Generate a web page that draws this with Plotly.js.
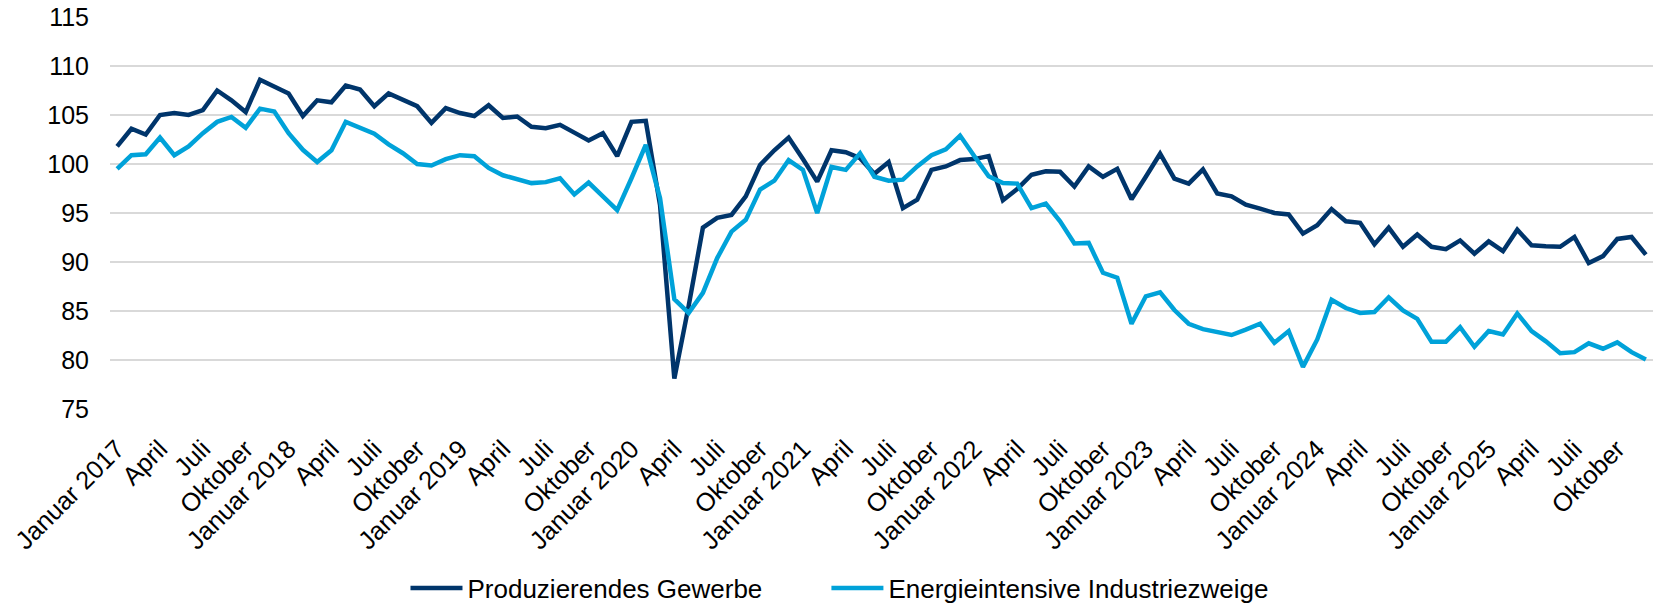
<!DOCTYPE html>
<html>
<head>
<meta charset="utf-8">
<script src="https://cdn.plot.ly/plotly-3.0.1.min.js"></script>
<style>html,body{margin:0;padding:0;background:#fff;}#chart{width:1654px;height:607px;}</style>
</head>
<body>
<div id="chart"></div>
<script>
// Monthly index values, Januar 2017 - Dezember 2025
const produzierendesGewerbe = [
  101.8, 103.6, 103.0, 105.0, 105.2, 105.0, 105.5, 107.5, 106.5, 105.3, 108.6, 107.9,
  107.2, 104.9, 106.5, 106.3, 108.0, 107.6, 105.9, 107.2, 106.5, 105.9, 104.2, 105.7,
  105.2, 104.9, 106.0, 104.7, 104.85, 103.8, 103.65, 104.0, 103.2, 102.4, 103.15, 100.8,
  104.3, 104.4, 95.8, 78.1, 85.5, 93.5, 94.5, 94.8, 96.7, 99.9, 101.4, 102.7,
  100.5, 98.2, 101.4, 101.2, 100.6, 99.0, 100.2, 95.5, 96.35, 99.4, 99.75, 100.4,
  100.5, 100.8, 96.3, 97.45, 98.9, 99.25, 99.2, 97.7, 99.75, 98.7, 99.5, 96.4,
  98.7, 101.05, 98.5, 98.0, 99.45, 97.0, 96.7, 95.85, 95.45, 95.0, 94.85, 92.9,
  93.75, 95.4, 94.15, 94.0, 91.8, 93.5, 91.55, 92.8, 91.55, 91.3, 92.2, 90.85,
  92.1, 91.1, 93.3, 91.7, 91.6, 91.55, 92.55, 89.9, 90.6, 92.35, 92.55, 90.75
];
const energieintensiveIndustriezweige = [
  99.5, 100.9, 101.0, 102.7, 100.9, 101.8, 103.15, 104.3, 104.8, 103.7, 105.65, 105.35,
  103.15, 101.45, 100.2, 101.4, 104.3, 103.7, 103.1, 102.0, 101.1, 100.0, 99.85, 100.5,
  100.9, 100.8, 99.6, 98.85, 98.5, 98.05, 98.15, 98.55, 96.9, 98.1, 96.7, 95.3,
  98.55, 101.95, 96.5, 86.2, 84.8, 86.85, 90.4, 93.1, 94.3, 97.4, 98.3, 100.4,
  99.4, 95.0, 99.7, 99.4, 101.1, 98.7, 98.3, 98.4, 99.75, 100.9, 101.5, 102.9,
  100.8, 98.75, 98.05, 98.0, 95.5, 95.95, 94.15, 91.9, 91.95, 88.9, 88.4, 83.7,
  86.5, 86.9, 85.1, 83.7, 83.15, 82.9, 82.55, 83.1, 83.7, 81.75, 82.95, 79.3,
  82.1, 86.15, 85.3, 84.8, 84.9, 86.4, 85.05, 84.2, 81.85, 81.85, 83.35, 81.35,
  82.95, 82.6, 84.75, 82.95, 81.9, 80.7, 80.8, 81.7, 81.15, 81.8, 80.8, 80.05
];
const tickLabels = [
  "Januar 2017", "April", "Juli", "Oktober",
  "Januar 2018", "April", "Juli", "Oktober",
  "Januar 2019", "April", "Juli", "Oktober",
  "Januar 2020", "April", "Juli", "Oktober",
  "Januar 2021", "April", "Juli", "Oktober",
  "Januar 2022", "April", "Juli", "Oktober",
  "Januar 2023", "April", "Juli", "Oktober",
  "Januar 2024", "April", "Juli", "Oktober",
  "Januar 2025", "April", "Juli", "Oktober"
];
const seriesNames = ["Produzierendes Gewerbe", "Energieintensive Industriezweige"];
const yTicks = [75, 80, 85, 90, 95, 100, 105, 110, 115];

const monthIndex = produzierendesGewerbe.map((_, i) => i);
const tickIndex = tickLabels.map((_, i) => i * 3);

const fontFamily = "Liberation Sans, Arial, sans-serif";

const traces = [
  {
    x: monthIndex, y: produzierendesGewerbe, name: seriesNames[0],
    type: "scatter", mode: "lines", legend: "legend",
    line: {color: "#00356b", width: 4.5}
  },
  {
    x: monthIndex, y: energieintensiveIndustriezweige, name: seriesNames[1],
    type: "scatter", mode: "lines", legend: "legend2",
    line: {color: "#00a2d9", width: 4.5}
  }
];

const legendBase = {
  orientation: "h", xref: "paper", yref: "paper",
  xanchor: "left", y: -0.457, yanchor: "middle",
  font: {family: fontFamily, size: 26, color: "#000000"},
  itemwidth: 52,
  bgcolor: "rgba(0,0,0,0)"
};

const layout = {
  width: 1654, height: 607,
  margin: {l: 110, r: 1, t: 17, b: 198, autoexpand: false},
  paper_bgcolor: "#ffffff", plot_bgcolor: "#ffffff",
  font: {family: fontFamily, size: 25, color: "#000000"},
  showlegend: true,
  legend: Object.assign({}, legendBase, {x: 0.1915}),
  legend2: Object.assign({}, legendBase, {x: 0.4643}),
  xaxis: {
    range: [-0.5, monthIndex.length - 0.5],
    tickmode: "array", tickvals: tickIndex, ticktext: tickLabels,
    tickangle: -45, showgrid: false, zeroline: false, showline: false,
    ticks: "", ticklabelstandoff: 19, automargin: false,
    tickfont: {family: fontFamily, size: 25.5, color: "#000000"},
    fixedrange: true
  },
  yaxis: {
    range: [75, 115], tickmode: "array", tickvals: yTicks,
    showgrid: true, gridcolor: "#d9d9d9", gridwidth: 2,
    zeroline: false, showline: false, ticks: "", automargin: false,
    ticklabelstandoff: 20,
    tickfont: {family: fontFamily, size: 25, color: "#000000"},
    fixedrange: true
  }
};

Plotly.newPlot("chart", traces, layout, {displayModeBar: false, staticPlot: true});
</script>
</body>
</html>
